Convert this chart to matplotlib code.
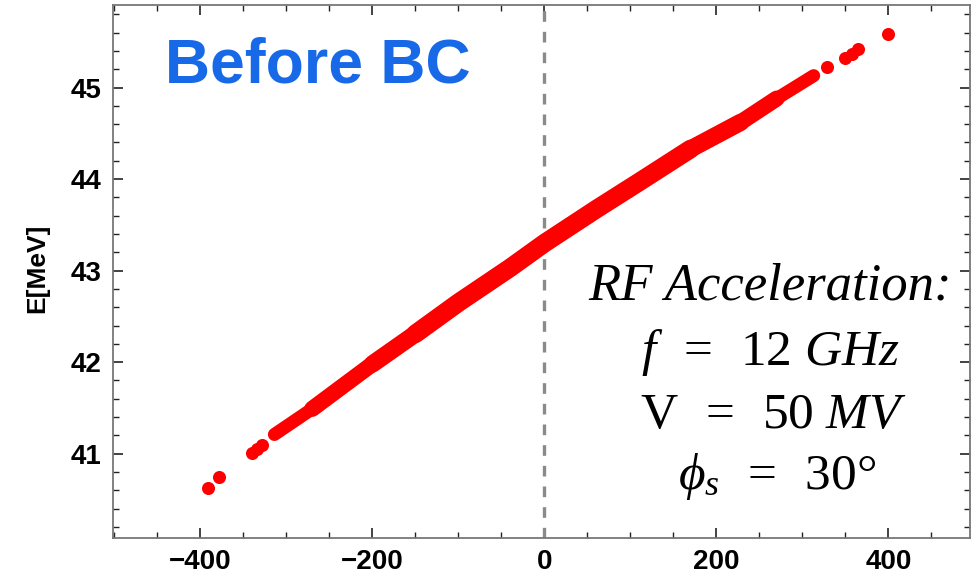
import matplotlib
matplotlib.use("Agg")
import matplotlib.pyplot as plt
from matplotlib.ticker import MultipleLocator

# ── Data ───────────────────────────────────────────────────────────────────────
# dense central band of particles: z [arb.] vs E [MeV]
band_z = [-314, -270, -200, -150, -100, -40, 0, 60, 112, 170, 228, 270, 313]
band_e = [41.21, 41.49, 41.98, 42.31, 42.65, 43.03, 43.30, 43.67, 43.98, 44.33, 44.62, 44.88, 45.13]

# sparse tail particles
tail_z = [-391, -378, -340, -334, -328, 329, 350, 357, 364, 399]
tail_e = [40.63, 40.74, 41.01, 41.05, 41.09, 45.23, 45.32, 45.37, 45.42, 45.58]

x_ticks = [-400, -200, 0, 200, 400]
y_ticks = [41, 42, 43, 44, 45]

RED = "#FF0000"
BLUE = "#1769E8"

plt.rcParams.update({
    "font.family": "Liberation Sans",
    "mathtext.fontset": "custom",
    "mathtext.rm": "Liberation Serif",
    "mathtext.it": "Liberation Serif:italic",
})

fig = plt.figure(figsize=(9.8, 5.79), dpi=100)
ax = fig.add_axes([0.115, 0.071, 0.875, 0.92])

# band, a little thinner towards both ends
for lo, hi, lw in [(-400, 400, 9.4), (-300, 300, 10.6), (-270, 280, 11.6),
                   (-230, 250, 12.5), (-180, 200, 13.4)]:
    idx = [i for i, z in enumerate(band_z) if lo <= z <= hi]
    ax.plot([band_z[i] for i in idx], [band_e[i] for i in idx],
            color=RED, lw=lw, solid_capstyle="round", zorder=3)
ax.plot(tail_z, tail_e, "o", color=RED, ms=9.4, mew=0, zorder=3)

ax.axvline(0, color="#8a8a8a", lw=2.4, ls=(0, (3.2, 3.0)), zorder=2)

ax.set_xlim(-502, 495)
ax.set_ylim(40.08, 45.90)
ax.set_xticks(x_ticks)
ax.set_xticklabels([f"\u2212{abs(v)}" if v < 0 else str(v) for v in x_ticks])
ax.set_yticks(y_ticks)
ax.xaxis.set_minor_locator(MultipleLocator(50))
ax.yaxis.set_minor_locator(MultipleLocator(0.2))
ax.tick_params(which="both", direction="in", top=True, right=True, color="#222222")
ax.tick_params(which="major", length=7, width=1.2, labelsize=20, pad=8)
ax.tick_params(which="minor", length=4.5, width=1.0)
for lab in ax.get_xticklabels() + ax.get_yticklabels():
    lab.set_fontweight("bold")
for sp in ax.spines.values():
    sp.set_color("#777777")
    sp.set_linewidth(1.3)

fig.text(37 / 980, 1 - 268 / 579, "E[MeV]", rotation=90, ha="center", va="center",
         fontsize=19, fontweight="bold")

ax.text(-441, 45.06, "Before BC", color=BLUE, fontsize=45, fontweight="bold",
        ha="left", va="baseline")

tx = 262
ax.text(tx, 42.68, "RF Acceleration:", family="Liberation Serif", style="italic",
        fontsize=38, ha="center", va="baseline")
ax.text(tx, 41.97, r"$f\;\;=\;\;\mathrm{12}\ GHz$", fontsize=37, ha="center", va="baseline")
ax.text(tx + 4, 41.28, r"$\mathrm{V}\;\;=\;\;\mathrm{50}\ MV$", fontsize=37, ha="center", va="baseline")
ax.text(tx + 8, 40.61, r"$\phi_s\;\;=\;\;\mathrm{30}\degree$", fontsize=37, ha="center", va="baseline")

fig.savefig("out.png", dpi=100)
